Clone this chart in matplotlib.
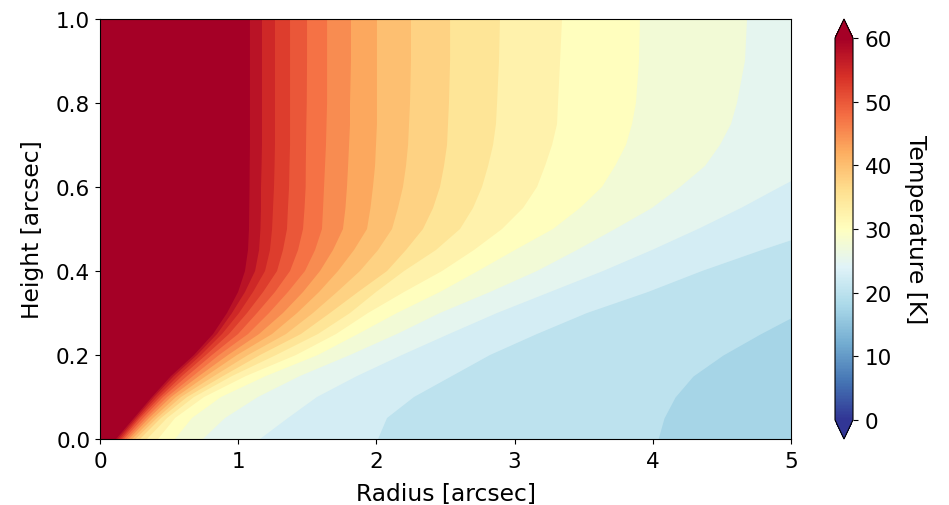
#!/bin/python
# temperature map: bands drawn from contour radii
import matplotlib
matplotlib.use('Agg')
import matplotlib.pyplot as plt
from matplotlib.cm import ScalarMappable
from matplotlib.colors import Normalize

# heights [arcsec] where the contour radii were read
heights = [0, .05, .1, .15, .2, .25, .3, .35, .4, .45, .5, .55, .6, .65, .7, .75, .8, .9, 1.0]

# contour radius [arcsec] per temperature level [K]; above 5 is outside the frame
r_60 = [.116, .246, .376, .514, .680, .818, .919, .999, 1.049, 1.071, 1.078, 1.080, 1.082, 1.083, 1.085, 1.085, 1.085, 1.085, 1.085]
r_575 = [.130, .260, .391, .535, .702, .847, .955, 1.049, 1.122, 1.151, 1.161, 1.165, 1.165, 1.169, 1.172, 1.172, 1.172, 1.172, 1.172]
r_55 = [.145, .275, .412, .564, .731, .883, 1.006, 1.107, 1.194, 1.230, 1.245, 1.252, 1.259, 1.263, 1.266, 1.266, 1.266, 1.266, 1.266]
r_525 = [.159, .289, .434, .593, .767, .933, 1.064, 1.180, 1.281, 1.324, 1.353, 1.360, 1.368, 1.371, 1.375, 1.375, 1.375, 1.375, 1.375]
r_50 = [.174, .311, .456, .630, .810, .999, 1.136, 1.266, 1.375, 1.433, 1.469, 1.480, 1.488, 1.489, 1.491, 1.493, 1.496, 1.498, 1.498]
r_475 = [.192, .333, .485, .673, .861, 1.071, 1.223, 1.360, 1.483, 1.556, 1.606, 1.614, 1.621, 1.628, 1.635, 1.639, 1.643, 1.643, 1.643]
r_45 = [.210, .355, .514, .716, .926, 1.151, 1.324, 1.469, 1.592, 1.686, 1.758, 1.776, 1.787, 1.795, 1.802, 1.809, 1.809, 1.816, 1.816]
r_425 = [.232, .384, .550, .767, .991, 1.245, 1.426, 1.585, 1.722, 1.838, 1.932, 1.957, 1.975, 1.990, 1.997, 2.004, 2.004, 2.004, 2.004]
r_40 = [.257, .412, .586, .825, 1.071, 1.346, 1.541, 1.715, 1.881, 2.012, 2.113, 2.156, 2.192, 2.214, 2.229, 2.236, 2.243, 2.250, 2.250]
r_375 = [.289, .441, .630, .890, 1.158, 1.454, 1.664, 1.867, 2.077, 2.214, 2.337, 2.410, 2.460, 2.489, 2.511, 2.518, 2.525, 2.533, 2.533]
r_35 = [.340, .485, .680, .955, 1.274, 1.577, 1.809, 1.997, 2.200, 2.431, 2.605, 2.699, 2.764, 2.808, 2.844, 2.865, 2.873, 2.887, 2.894]
r_325 = [.420, .543, .753, 1.056, 1.418, 1.708, 1.939, 2.200, 2.475, 2.706, 2.909, 3.061, 3.162, 3.220, 3.271, 3.307, 3.314, 3.329, 3.343]
r_30 = [.543, .666, .876, 1.201, 1.577, 1.867, 2.149, 2.460, 2.735, 3.003, 3.278, 3.473, 3.632, 3.727, 3.806, 3.850, 3.878, 3.900, 3.907]
r_275 = [.745, .905, 1.143, 1.447, 1.809, 2.149, 2.460, 2.822, 3.162, 3.452, 3.727, 3.994, 4.197, 4.378, 4.486, 4.566, 4.609, 4.667, 4.682]
r_25 = [1.158, 1.360, 1.570, 1.860, 2.185, 2.525, 2.873, 3.256, 3.640, 3.994, 4.327, 4.638, 4.920, 5.21, 5.50, 5.64, 5.72, 5.79, 5.86]
r_225 = [2.012, 2.077, 2.272, 2.547, 2.822, 3.162, 3.524, 3.965, 4.356, 4.790, 5.246, 5.64, 5.93, 6.15, 6.30, 6.44, 6.51, 6.58, 6.66]
r_20 = [4.038, 4.081, 4.161, 4.291, 4.508, 4.776, 5.065, 5.5, 6.0, 6.5, 7.0, 7.5, 8.0, 8.2, 8.4, 8.6, 8.7, 8.8, 9.0]

levels = [60, 57.5, 55, 52.5, 50, 47.5, 45, 42.5, 40, 37.5, 35, 32.5, 30, 27.5, 25, 22.5, 20]
contours = [r_60, r_575, r_55, r_525, r_50, r_475, r_45, r_425, r_40, r_375,
            r_35, r_325, r_30, r_275, r_25, r_225, r_20]
step = 2.5
cbar_ticks = [0, 10, 20, 30, 40, 50, 60]

W, H = 949, 506
fs_tick = 15.5
fs_label = 16.8

fig = plt.figure(figsize=(W / 100, H / 100), dpi=100)
ax = fig.add_axes([100 / W, 1 - 440 / H, 691 / W, 420 / H])

cmap = plt.get_cmap('RdYlBu_r')
norm = Normalize(vmin=0, vmax=60)

# hottest part is the axes background, each cooler band is painted over to the right
# a band takes the colour of its lower level
ax.set_facecolor(cmap(1.0))
for level, radius in zip(levels, contours):
    ax.fill_betweenx(heights, radius, 10, color=cmap(norm(level - step)), lw=0)

ax.set_xlim(0, 5)
ax.set_ylim(0, 1)
ax.set_xlabel('Radius [arcsec]', fontsize=fs_label, labelpad=8)
ax.set_ylabel('Height [arcsec]', fontsize=fs_label, labelpad=9)
ax.tick_params(labelsize=fs_tick)
ax.tick_params(axis='x', pad=5)

cax = fig.add_axes([835 / W, 1 - 440 / H, 18 / W, 420 / H])
cb = fig.colorbar(ScalarMappable(norm=norm, cmap=cmap), cax=cax, extend='both')
cb.set_ticks(cbar_ticks)
cb.ax.tick_params(labelsize=fs_tick, pad=5)
cb.set_label('Temperature [K]', fontsize=fs_label, rotation=270, labelpad=25)

fig.savefig('out.png', dpi=100)
